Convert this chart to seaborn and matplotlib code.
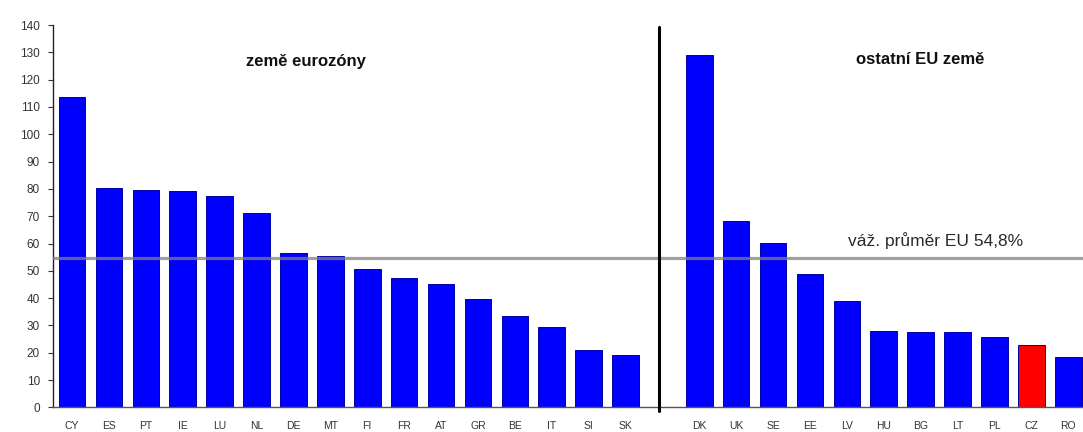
import matplotlib
matplotlib.use("Agg")
import matplotlib.pyplot as plt
import seaborn as sns
import pandas as pd

# Eurozone members and other EU states, share in %
euro_countries = ["CY", "ES", "PT", "IE", "LU", "NL", "DE", "MT",
                  "FI", "FR", "AT", "GR", "BE", "IT", "SI", "SK"]
euro_values = [113.5, 80.5, 79.5, 79.2, 77.3, 71.1, 56.6, 55.5,
               50.5, 47.5, 45.0, 39.6, 33.4, 29.5, 21.0, 19.0]

other_countries = ["DK", "UK", "SE", "EE", "LV", "HU", "BG", "LT", "PL", "CZ", "RO"]
other_values = [129.0, 68.3, 60.2, 48.7, 39.0, 28.1, 27.6, 27.6, 25.6, 22.7, 18.3]

eu_average = 54.8
highlight = "CZ"

title_euro = "země eurozóny"
title_other = "ostatní EU země"
avg_label = "váž. průměr EU 54,8%"
y_ticks = list(range(0, 141, 10))

sns.set_theme(style="white")
plt.rcParams["font.family"] = ["Liberation Sans", "DejaVu Sans"]

df = pd.DataFrame({
    "country": euro_countries + other_countries,
    "value": euro_values + other_values,
})
gap = " "
order = euro_countries + [gap] + other_countries
palette = {c: ("#ff0000" if c == highlight else "#0000ff") for c in df["country"]}

fig = plt.figure(figsize=(10.83, 4.32), dpi=100)
ax = fig.add_axes([0.049, 0.057, 0.951, 0.885])

sns.barplot(data=df, x="country", y="value", hue="country", order=order,
            palette=palette, legend=False, width=0.72, saturation=1,
            edgecolor="#0000a8", linewidth=0.7, ax=ax)

# weighted EU average
ax.axhline(eu_average, color="#808080", alpha=0.75, lw=2.3, zorder=5)
ax.text(23.4, eu_average + 6.3, avg_label, ha="center", va="center",
        fontsize=12.5, color="#2a2a2a")

# separator between the two groups
sep = order.index(gap) - 0.1
ax.plot([sep, sep], [-1.3, 139.2], color="black", lw=2.2, clip_on=False, zorder=6)

ax.text(6.35, 126.8, title_euro, ha="center", va="center",
        fontsize=12, fontweight="bold", color="#111111")
ax.text(23.0, 127.5, title_other, ha="center", va="center",
        fontsize=12, fontweight="bold", color="#111111")

ax.set_ylim(0, 140)
ax.set_xlim(-0.515, 27.4)
ax.set_yticks(y_ticks)
ax.set_yticklabels([str(t) for t in y_ticks])
ax.set_xlabel("")
ax.set_ylabel("")

ax.tick_params(axis="y", which="both", left=True, direction="out", length=3.5,
               width=0.8, pad=6, labelsize=8.5, labelcolor="#333333", color="#333333")
ax.tick_params(axis="x", which="both", bottom=False, pad=4, labelsize=7.5,
               labelcolor="#333333")

for side in ["top", "right"]:
    ax.spines[side].set_visible(False)
ax.spines["left"].set_color("#222222")
ax.spines["left"].set_linewidth(1.0)
ax.spines["bottom"].set_color("#555555")
ax.spines["bottom"].set_linewidth(1.0)

fig.savefig("out.png", dpi=100)
